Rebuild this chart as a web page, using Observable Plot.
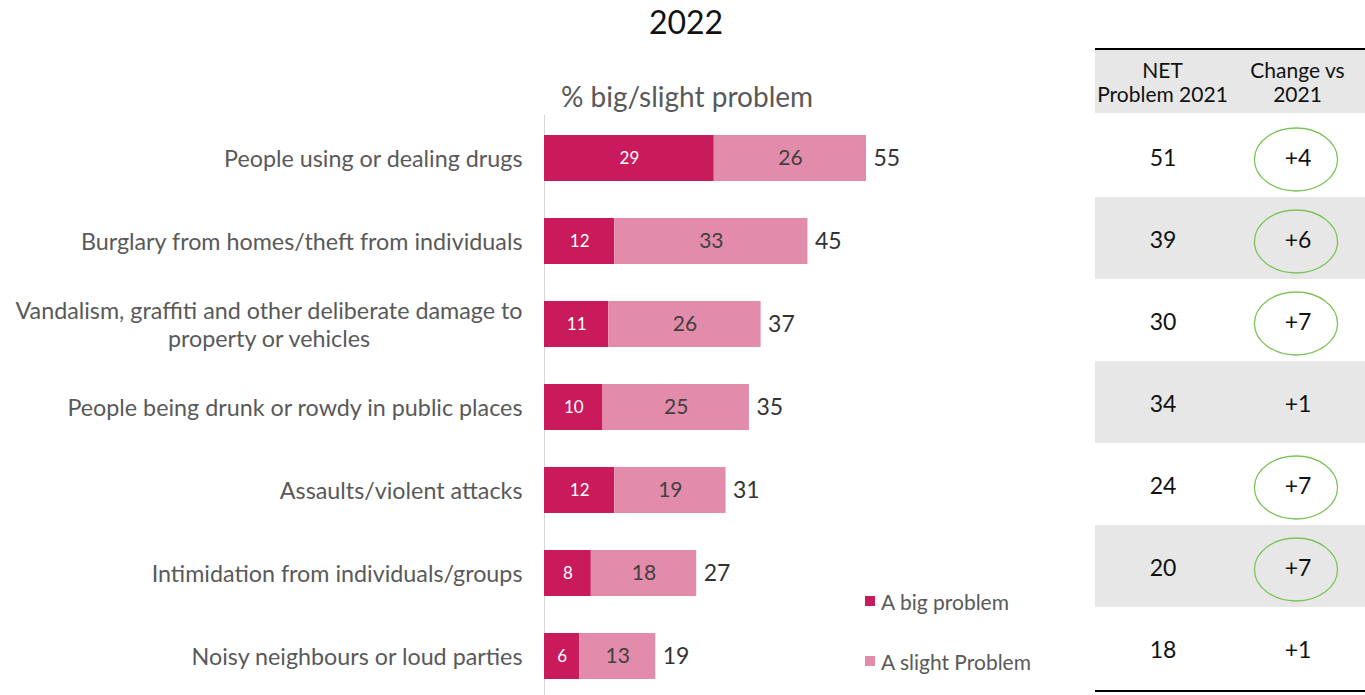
<!DOCTYPE html>
<html>
<head>
<meta charset="utf-8">
<script src="https://cdn.jsdelivr.net/npm/d3@7"></script>
<script src="https://cdn.jsdelivr.net/npm/@observablehq/plot@0.6"></script>
<style>
  body { margin: 0; background: #fff; font-family: Lato, "Open Sans", sans-serif; }
  #wrap { position: relative; width: 1365px; height: 695px; overflow: hidden; background: #fff; }
  .abs { position: absolute; }
  #title { left: 0; width: 1372px; top: 2px; text-align: center; font-size: 32px; color: #111; line-height: 40px; }
  #subtitle { left: 487px; width: 400px; top: 80px; text-align: center; font-size: 28px; color: #595959; line-height: 32px; }
  #chart { left: 0; top: 115px; }
  #legend { left: 865px; top: 586px; font-size: 21px; color: #595959; }
  .lg { display: flex; align-items: center; height: 30px; margin-bottom: 30px; }
  .sw { width: 10px; height: 10px; margin-right: 6px; }
  #thead { left: 1095px; top: 48px; width: 270px; height: 63px; border-top: 2px solid #000; background: #e7e7e7; display: flex; }
  #thead div { width: 135px; display: flex; align-items: center; justify-content: center; text-align: center; font-size: 21px; line-height: 24px; color: #111; }
  #table { left: 1095px; top: 113px; border-bottom: 2px solid #000; }
  svg { overflow: visible; }
</style>
</head>
<body>
<div id="wrap">
  <div id="title" class="abs"></div>
  <div id="subtitle" class="abs"></div>
  <div id="chart" class="abs"></div>
  <div id="legend" class="abs"></div>
  <div id="thead" class="abs"></div>
  <div id="table" class="abs"></div>
</div>
<script>
// ---------- data ----------
const titleText = "2022";
const subtitleText = "% big/slight problem";
const categories = [
  "People using or dealing drugs",
  "Burglary from homes/theft from individuals",
  "Vandalism, graffiti and other deliberate damage to\nproperty or vehicles",
  "People being drunk or rowdy in public places",
  "Assaults/violent attacks",
  "Intimidation from individuals/groups",
  "Noisy neighbours or loud parties"
];
const bigProblem    = [29, 12, 11, 10, 12, 8, 6];
const slightProblem = [26, 33, 26, 25, 19, 18, 13];
const netTotal      = [55, 45, 37, 35, 31, 27, 19];
const seriesNames   = ["A big problem", "A slight Problem"];
const seriesColors  = ["#c91b5b", "#e38bab"];
const tableHeaders  = ["NET\nProblem 2021", "Change vs\n2021"];
const net2021       = [51, 39, 30, 34, 24, 20, 18];
const changeVs2021  = ["+4", "+6", "+7", "+1", "+7", "+7", "+1"];
const circled       = [true, true, true, false, true, true, false];

// ---------- text ----------
document.getElementById("title").textContent = titleText;
document.getElementById("subtitle").textContent = subtitleText;

// ---------- bar chart ----------
const segs = [];
categories.forEach((c, i) => {
  segs.push({cat: c, series: seriesNames[0], x1: 0, x2: bigProblem[i], value: bigProblem[i]});
  segs.push({cat: c, series: seriesNames[1], x1: bigProblem[i], x2: bigProblem[i] + slightProblem[i], value: slightProblem[i]});
});
const totals = categories.map((c, i) => ({cat: c, x: bigProblem[i] + slightProblem[i], total: netTotal[i]}));

const chart = Plot.plot({
  width: 1090,
  height: 580,
  marginTop: 0, marginBottom: 0, marginLeft: 544, marginRight: 0,
  style: {fontFamily: "Lato, sans-serif", background: "transparent"},
  x: {domain: [0, 55], range: [544, 866], axis: null},
  y: {type: "band", domain: categories, range: [0, 583.3], paddingInner: 0.448, paddingOuter: 0.224, label: null},
  color: {domain: seriesNames, range: seriesColors},
  marks: [
    Plot.ruleX([0], {stroke: "#d6d6d6", strokeWidth: 1}),
    Plot.barX(segs, {x1: "x1", x2: "x2", y: "cat", fill: "series", insetTop: 0, insetBottom: 0}),
    Plot.text(segs.filter(d => d.series === seriesNames[0]), {
      x: d => (d.x1 + d.x2) / 2, y: "cat", text: d => String(d.value),
      fill: "#ffffff", fontSize: 17
    }),
    Plot.text(segs.filter(d => d.series === seriesNames[1]), {
      x: d => (d.x1 + d.x2) / 2, y: "cat", text: d => String(d.value),
      fill: "#404040", fontSize: 21
    }),
    Plot.text(totals, {
      x: "x", y: "cat", text: d => String(d.total), textAnchor: "start", dx: 7,
      fill: "#333333", fontSize: 23
    }),
    Plot.axisY({tickSize: 0, tickPadding: 22, fontSize: 23.3, lineHeight: 1.2, fill: "#595959", label: null, lineWidth: 100})
  ]
});
document.getElementById("chart").appendChild(chart);

// center multi-line category labels (as in the reference)
chart.querySelectorAll("text").forEach(t => {
  const spans = t.querySelectorAll("tspan");
  if (spans.length > 1) {
    const bb = t.getBBox();
    t.setAttribute("text-anchor", "middle");
    spans.forEach(s => s.setAttribute("x", -bb.width / 2));
  }
});

// ---------- legend ----------
const legend = document.getElementById("legend");
seriesNames.forEach((s, i) => {
  const row = document.createElement("div");
  row.className = "lg";
  const sw = document.createElement("div");
  sw.className = "sw";
  sw.style.background = seriesColors[i];
  const tx = document.createElement("span");
  tx.textContent = s;
  row.appendChild(sw); row.appendChild(tx);
  legend.appendChild(row);
});

// ---------- table header ----------
const thead = document.getElementById("thead");
tableHeaders.forEach(h => {
  const d = document.createElement("div");
  d.innerHTML = h.split("\n").join("<br>");
  thead.appendChild(d);
});

// ---------- table body ----------
const rows = categories.map((c, i) => ({row: i, net: net2021[i], change: changeVs2021[i], circled: circled[i], shaded: i % 2 === 1}));
const ellipse = {
  draw(ctx, size) {
    const r = Math.sqrt(size / Math.PI);
    const rx = r * 1.32, ry = r, k = 0.5523;
    ctx.moveTo(rx, 0);
    ctx.bezierCurveTo(rx, ry * k, rx * k, ry, 0, ry);
    ctx.bezierCurveTo(-rx * k, ry, -rx, ry * k, -rx, 0);
    ctx.bezierCurveTo(-rx, -ry * k, -rx * k, -ry, 0, -ry);
    ctx.bezierCurveTo(rx * k, -ry, rx, -ry * k, rx, 0);
    ctx.closePath();
  }
};
const table = Plot.plot({
  width: 270,
  height: 577,
  margin: 0,
  style: {fontFamily: "Lato, sans-serif", background: "transparent"},
  x: {type: "band", domain: ["net", "change"], range: [0, 270], padding: 0, axis: null},
  y: {type: "band", domain: d3.range(categories.length), range: [0, 577], padding: 0, axis: null},
  marks: [
    Plot.cell(rows.filter(d => d.shaded), {y: "row", fill: "#e7e7e7"}),
    Plot.dot(rows.filter(d => d.circled), {x: () => "change", y: "row", symbol: ellipse, r: 31.5, stroke: "#7cc35a", strokeWidth: 1.3, fill: "none", dx: -2, dy: 3}),
    Plot.text(rows, {x: () => "net", y: "row", text: d => String(d.net), fontSize: 23, fill: "#111", dy: 2}),
    Plot.text(rows, {x: () => "change", y: "row", text: "change", fontSize: 23, fill: "#111", dy: 2})
  ]
});
document.getElementById("table").appendChild(table);
</script>
</body>
</html>
